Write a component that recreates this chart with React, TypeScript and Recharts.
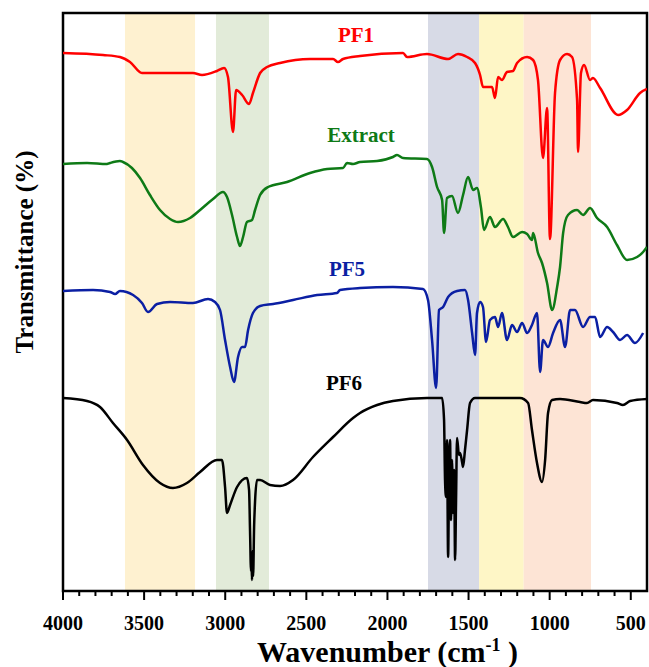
import { ComposedChart, Line, XAxis, YAxis, ReferenceArea } from 'recharts'

// FTIR spectra, stacked with vertical offsets (arbitrary transmittance units)
const pf1 = [
  [4000, 538], [3753, 536], [3649, 534], [3587, 529], [3513, 518], [3199, 518], [3143, 516],
  [3051, 520], [3007, 523], [2983, 514], [2952, 459], [2933, 501], [2896, 496], [2853, 487],
  [2829, 498], [2785, 518], [2742, 524], [2662, 528], [2477, 532], [2335, 532], [2305, 529],
  [2274, 532], [2169, 535], [1904, 538], [1879, 534], [1756, 537], [1626, 532], [1565, 537],
  [1509, 534], [1460, 528], [1429, 516], [1411, 504], [1355, 504], [1337, 493], [1318, 514],
  [1294, 511], [1263, 519], [1226, 520], [1201, 528], [1139, 534], [1102, 531], [1072, 511],
  [1041, 433], [1016, 483], [998, 352], [967, 498], [936, 531], [893, 537], [862, 534],
  [831, 491], [825, 439], [807, 518], [788, 526], [751, 511], [733, 513], [689, 503],
  [578, 476], [523, 481], [443, 498], [400, 502],
]

const extract = [
  [4000, 427], [3852, 428], [3729, 427], [3710, 428], [3649, 430], [3630, 429], [3575, 423],
  [3525, 413], [3464, 396], [3402, 381], [3340, 372], [3291, 369], [3217, 373], [3155, 381],
  [3075, 392], [3014, 399], [2989, 394], [2958, 376], [2927, 354], [2909, 345], [2890, 354],
  [2866, 369], [2835, 371], [2816, 381], [2785, 396], [2736, 404], [2619, 409], [2477, 418],
  [2372, 422], [2274, 423], [2249, 428], [2212, 427], [2169, 429], [2064, 430], [1966, 434],
  [1941, 436], [1904, 433], [1756, 432], [1725, 424], [1694, 404], [1663, 391], [1651, 358],
  [1633, 393], [1602, 395], [1565, 378], [1534, 396], [1503, 414], [1472, 401], [1448, 403],
  [1423, 383], [1405, 361], [1368, 374], [1337, 364], [1287, 372], [1257, 364], [1226, 354],
  [1170, 359], [1139, 357], [1109, 351], [1102, 358], [1072, 338], [1047, 328], [1016, 308],
  [985, 281], [954, 304], [936, 324], [917, 358], [887, 376], [831, 381], [794, 376],
  [751, 383], [708, 373], [646, 364], [585, 346], [523, 331], [461, 334], [424, 339], [400, 344],
]

const pf5 = [
  [4000, 300], [3815, 301], [3710, 299], [3679, 297], [3649, 300], [3568, 296], [3513, 288],
  [3476, 279], [3420, 287], [3340, 289], [3199, 288], [3106, 292], [3063, 289], [3032, 281],
  [3001, 251], [2970, 224], [2946, 209], [2921, 234], [2896, 244], [2878, 244], [2859, 261],
  [2829, 278], [2785, 285], [2705, 287], [2582, 291], [2434, 296], [2311, 298], [2292, 301],
  [2169, 303], [1966, 304], [1781, 302], [1750, 291], [1725, 251], [1700, 203], [1682, 281],
  [1657, 284], [1626, 294], [1571, 300], [1522, 301], [1503, 291], [1478, 258], [1460, 236],
  [1448, 278], [1429, 289], [1411, 284], [1392, 249], [1368, 271], [1337, 274], [1318, 264],
  [1294, 278], [1263, 251], [1232, 266], [1201, 259], [1170, 268], [1139, 258], [1109, 266],
  [1078, 278], [1059, 219], [1041, 251], [1010, 244], [979, 258], [936, 271], [905, 244],
  [874, 281], [844, 281], [794, 264], [751, 274], [720, 274], [689, 254], [646, 264],
  [609, 259], [566, 251], [523, 256], [474, 248], [424, 258],
]

const pf6 = [
  [4000, 193], [3852, 190], [3772, 184], [3692, 168], [3605, 151], [3507, 126], [3402, 108],
  [3322, 103], [3236, 108], [3155, 119], [3051, 131], [3020, 131], [3001, 104], [2989, 78],
  [2970, 86], [2927, 104], [2866, 113], [2853, 101], [2847, 60], [2841, 20], [2838, 30],
  [2835, 11], [2832, 40], [2828, 15], [2822, 64], [2816, 90], [2804, 111], [2785, 111],
  [2724, 106], [2662, 105], [2582, 111], [2459, 134], [2335, 154], [2212, 173], [2169, 178],
  [2064, 186], [1966, 190], [1756, 193], [1663, 193], [1651, 171], [1645, 111], [1639, 94],
  [1633, 151], [1626, 34], [1620, 121], [1614, 151], [1608, 71], [1602, 131], [1596, 78],
  [1589, 121], [1583, 31], [1577, 91], [1571, 153], [1559, 136], [1552, 138], [1540, 129],
  [1534, 124], [1522, 141], [1509, 161], [1491, 188], [1460, 193], [1183, 193], [1133, 188],
  [1109, 161], [1078, 128], [1047, 109], [1028, 131], [1010, 178], [985, 191], [936, 192],
  [813, 189], [770, 188], [733, 191], [585, 188], [548, 186], [504, 190], [400, 192],
]

// shaded assignment bands [from, to, colour]
const bands: [number, number, string][] = [
  [3618, 3186, '#FEF1D0'],
  [3057, 2730, '#E2EBD9'],
  [1750, 1435, '#D7DAE6'],
  [1435, 1160, '#FEF6C6'],
  [1160, 745, '#FDE4D5'],
]

const majorTicks = [4000, 3500, 3000, 2500, 2000, 1500, 1000, 500]
const allTicks = [
  4000, 3900, 3800, 3700, 3600, 3500, 3400, 3300, 3200, 3100, 3000, 2900, 2800, 2700, 2600,
  2500, 2400, 2300, 2200, 2100, 2000, 1900, 1800, 1700, 1600, 1500, 1400, 1300, 1200, 1100,
  1000, 900, 800, 700, 600, 500,
]

const series = [
  { name: 'PF1', data: pf1, color: '#FF0000' },
  { name: 'Extract', data: extract, color: '#0E7A16' },
  { name: 'PF5', data: pf5, color: '#0B1FA3' },
  { name: 'PF6', data: pf6, color: '#000000' },
]

const serif = '"Liberation Serif", "Times New Roman", serif'

const toRows = (d: number[][]) => d.map(([wn, t]) => ({ wn, t }))

function WaveTick({ x, y, payload }: any) {
  const major = majorTicks.includes(payload.value)
  return (
    <g>
      <line x1={x} x2={x} y1={y} y2={y + (major ? 9 : 5)} stroke="#000" strokeWidth={2} />
      {major && (
        <text x={x} y={y + 39} textAnchor="middle"
          style={{ fontFamily: serif, fontWeight: 'bold', fontSize: 20, fill: '#000' }}>
          {payload.value}
        </text>
      )}
    </g>
  )
}

const label = (text: string, color: string, left: number, top: number) => (
  <div style={{
    position: 'absolute', left, top, transform: 'translateX(-50%)', color,
    fontFamily: serif, fontWeight: 'bold', fontSize: 21, lineHeight: 1, whiteSpace: 'nowrap',
  }}>{text}</div>
)

export default function App() {
  return (
    <div style={{ position: 'absolute', left: 0, top: 0, width: 649, height: 667, background: '#fff' }}>
      <ComposedChart width={649} height={667} margin={{ top: 13, right: 2, left: 63, bottom: 0 }}>
        <XAxis type="number" dataKey="wn" domain={[400, 4000]} reversed allowDataOverflow
          ticks={allTicks} interval={0} height={76} tickSize={0} tickMargin={0}
          tickLine={false} axisLine={false} tick={<WaveTick />} />
        <YAxis type="number" domain={[0, 578]} hide allowDataOverflow />
        {bands.map(([a, b, c]) => (
          <ReferenceArea key={a} x1={a} x2={b} y1={0} y2={578} fill={c} fillOpacity={1}
            stroke="none" />
        ))}
        {series.map((s) => (
          <Line key={s.name} data={toRows(s.data)} dataKey="t" type="monotoneX"
            stroke={s.color} strokeWidth={2.5} dot={false} isAnimationActive={false} />
        ))}
        <ReferenceArea x1={4000} x2={400} y1={0} y2={578} fill="none" stroke="#000"
          strokeWidth={2.5} />
      </ComposedChart>

      {label('PF1', '#FF0000', 356, 25)}
      {label('Extract', '#0E7A16', 361, 125)}
      {label('PF5', '#0B1FA3', 347, 259)}
      {label('PF6', '#000000', 344, 373)}

      <div style={{
        position: 'absolute', left: 24, top: 252, transform: 'translate(-50%, -50%) rotate(-90deg)',
        fontFamily: serif, fontWeight: 'bold', fontSize: 25, lineHeight: 1, whiteSpace: 'nowrap',
      }}>Transmittance (%)</div>

      <div style={{
        position: 'absolute', left: 257, top: 637, fontFamily: serif, fontWeight: 'bold',
        fontSize: 30, lineHeight: 1, whiteSpace: 'nowrap',
      }}>
        Wavenumber (cm<sup style={{ fontSize: '0.6em', lineHeight: 0 }}>-1</sup> )
      </div>
    </div>
  )
}
